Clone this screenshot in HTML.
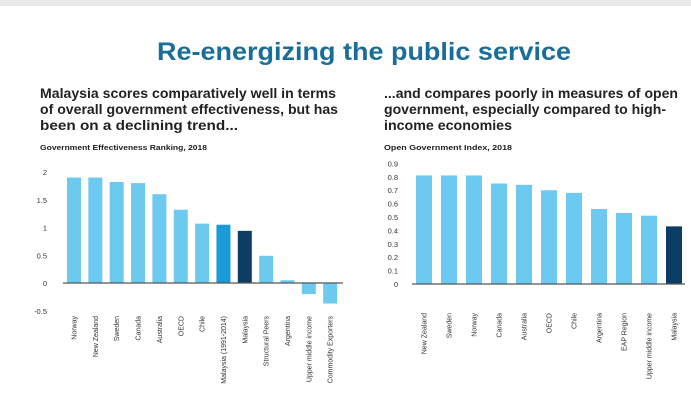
<!DOCTYPE html>
<html><head><meta charset="utf-8"><style>
body{margin:0;background:#fff;width:691px;height:408px;overflow:hidden;font-family:"Liberation Sans",sans-serif}
</style></head><body>
<svg width="691" height="408" style="display:block">
<rect x="0" y="0" width="691" height="6" fill="#e8e8e8"/>
<text x="364" y="60" text-anchor="middle" font-size="25" font-weight="bold" fill="#1b6d99" textLength="414" lengthAdjust="spacingAndGlyphs">Re-energizing the public service</text>
<g font-size="13.5" font-weight="bold" fill="#222">
<text x="40" y="98" textLength="296" lengthAdjust="spacingAndGlyphs">Malaysia scores comparatively well in terms</text>
<text x="40" y="114" textLength="298" lengthAdjust="spacingAndGlyphs">of overall government effectiveness, but has</text>
<text x="40" y="130" textLength="198" lengthAdjust="spacingAndGlyphs">been on a declining trend...</text>
</g>
<g font-size="13.5" font-weight="bold" fill="#222">
<text x="384" y="98" textLength="294" lengthAdjust="spacingAndGlyphs">...and compares poorly in measures of open</text>
<text x="384" y="114" textLength="282" lengthAdjust="spacingAndGlyphs">government, especially compared to high-</text>
<text x="384" y="130" textLength="128" lengthAdjust="spacingAndGlyphs">income economies</text>
</g>
<text x="40" y="150" font-size="7.5" font-weight="bold" fill="#222" textLength="167" lengthAdjust="spacingAndGlyphs">Government Effectiveness Ranking, 2018</text>
<text x="384" y="150" font-size="7.5" font-weight="bold" fill="#222" textLength="128" lengthAdjust="spacingAndGlyphs">Open Government Index, 2018</text>
<g id="left"></g>
<g id="right"></g>
</svg>
<script>
const leftCats=["Norway","New Zealand","Sweden","Canada","Australia","OECD","Chile","Malaysia (1991-2014)","Malaysia","Structural Peers","Argentina","Upper middle income","Commodity Exporters"];
const leftVals=[1.9,1.9,1.82,1.8,1.6,1.32,1.07,1.05,0.94,0.49,0.05,-0.2,-0.37];
const leftColors=["#6ccaf0","#6ccaf0","#6ccaf0","#6ccaf0","#6ccaf0","#6ccaf0","#6ccaf0","#1a9ad6","#0b3d66","#6ccaf0","#6ccaf0","#6ccaf0","#6ccaf0"];
const leftTicks=[2,1.5,1,0.5,0,-0.5];
const rightCats=["New Zealand","Sweden","Norway","Canada","Australia","OECD","Chile","Argentina","EAP Region","Upper middle income","Malaysia"];
const rightVals=[0.81,0.81,0.81,0.75,0.74,0.70,0.68,0.56,0.53,0.51,0.43];
const rightColors=["#6ccaf0","#6ccaf0","#6ccaf0","#6ccaf0","#6ccaf0","#6ccaf0","#6ccaf0","#6ccaf0","#6ccaf0","#6ccaf0","#0b3d66"];
const rightTicks=[0.9,0.8,0.7,0.6,0.5,0.4,0.3,0.2,0.1,0];
const NS="http://www.w3.org/2000/svg";
function mk(tag,attrs,parent){const e=document.createElementNS(NS,tag);for(const k in attrs)e.setAttribute(k,attrs[k]);parent.appendChild(e);return e;}
function draw(gid,cats,vals,colors,ticks,cfg){
  const g=document.getElementById(gid);
  const y=v=>cfg.y0-v*cfg.scale;
  const x=i=>cfg.x0+i*cfg.pitch;
  ticks.forEach(t=>{
    const tx=mk('text',{x:cfg.labelX,y:y(t)+3,'text-anchor':'end','font-size':'7.5',fill:'#333'},g);
    tx.textContent=String(t);
    
    
  });
  vals.forEach((v,i)=>{
    const top=Math.min(y(v),y(0)),h=Math.abs(y(v)-y(0));
    const r=mk('rect',{x:x(i)-cfg.bw/2,y:top,width:cfg.bw,height:h,fill:colors[i]},g);
    
    
    const t=mk('text',{transform:`translate(${x(i)+2.5},${cfg.labTop}) rotate(-90)`,'text-anchor':'end','font-size':'7',fill:'#333'},g);
    t.textContent=cats[i];
    
    
  });
  const ax=mk('line',{x1:cfg.ax1,x2:cfg.ax2,y1:y(0),y2:y(0),stroke:'#555','stroke-width':1.3},g);
  
  
}
draw('left',leftCats,leftVals,leftColors,leftTicks,{y0:283,scale:55.5,x0:74,pitch:21.35,bw:14,labelX:47,labTop:316,ax1:63,ax2:343});
draw('right',rightCats,rightVals,rightColors,rightTicks,{y0:284,scale:134,x0:424,pitch:25,bw:16,labelX:398,labTop:313,ax1:412,ax2:685});
</script>
</body></html>
